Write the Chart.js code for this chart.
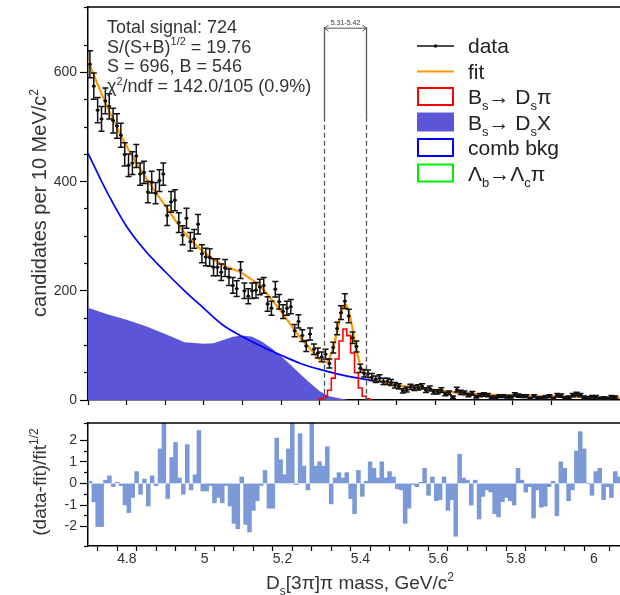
<!DOCTYPE html>
<html>
<head>
<meta charset="utf-8">
<title>Ds pi mass fit</title>
<script src="https://cdn.jsdelivr.net/npm/chart.js@4.4.1/dist/chart.umd.min.js"></script>
<style>
  html, body { margin: 0; padding: 0; background: #fff; }
  #frame { position: relative; width: 620px; height: 595px; overflow: hidden; }
  #massChart { position: absolute; left: 0; top: 0; }
  #pullChart { position: absolute; left: 0; top: 405px; }
</style>
</head>
<body>
<div id="frame">
  <canvas id="massChart" width="625" height="405"></canvas>
  <canvas id="pullChart" width="625" height="190"></canvas>
</div>
<script>
// 10 MeV bins starting at 4.70 GeV
const binStart = 4.70;
const binWidth = 0.01;

// candidates per bin
const candidates = [
  615, 575, 531, 515, 548, 538, 512, 502, 485, 450,
  430, 434, 447, 414, 417, 381, 399, 379, 402, 414,
  338, 363, 366, 325, 302, 333, 290, 295, 322, 268,
  262, 261, 243, 243, 234, 242, 225, 210, 204, 238,
  200, 190, 200, 201, 207, 210, 176, 168, 203, 180,
  162, 168, 171, 127, 144, 118, 99, 121, 93, 86,
  79, 84, 67, 96, 131, 160, 181, 154, 114, 98,
  58, 49, 48, 42, 38, 40, 34, 34, 32, 27,
  25, 17, 19, 24, 22, 23, 25, 18, 21, 15,
  15, 18, 11, 13, 5, 19, 14, 13, 9, 12,
  6, 9, 10, 9, 5, 5, 7, 7, 6, 6,
  10, 8, 7, 7, 3, 7, 4, 4, 6, 7,
  3, 9, 8, 4, 5, 9, 11, 9, 5, 4,
  6, 6, 3, 4, 3, 6, 5
];

// (data-fit)/sqrt(fit) per bin
const pulls = [
  0.1, -0.85, -2.0, -2.0, 0.15, 0.35, -0.15, 0.05, -0.1, -1.0,
  -1.35, -0.65, 0.55, -0.5, 0.2, -1.05, 0.35, -0.1, 1.6, 2.8,
  -0.7, 1.2, 1.9, 0.25, -0.5, 1.8, -0.3, 0.4, 2.45, -0.35,
  -0.35, -0.1, -0.9, -0.65, -0.9, -0.1, -1.05, -1.85, -2.1, 0.3,
  -1.9, -2.25, -1.25, -0.8, -0.1, 0.6, -1.15, -1.15, 2.1, 1.1,
  0.4, 1.6, 2.8, -0.05, 2.3, 0.8, -0.3, 2.8, 0.8, 1.0,
  0.8, 1.7, -0.95, 0.25, 0.5, 0.25, 0.5, -0.7, -1.4, 0.6,
  -0.6, 0.1, 1.0, 0.7, 0.25, 1.0, 0.25, 0.55, 0.3, -0.25,
  -0.3, -1.85, -1.15, -0.05, -0.15, 0.05, 0.7, -0.55, 0.3, -0.8,
  -0.75, 0.3, -1.25, -0.75, -2.45, 1.35, 0.25, 0.15, -1.0, 0.15,
  -1.65, -0.6, -0.3, -0.4, -1.4, -1.55, -0.85, -0.65, -0.8, -1.0,
  0.7, 0.15, -0.4, -0.15, -1.6, -0.3, -1.1, -1.05, -0.15, 0.1,
  -1.5, 1.0, 0.7, -0.8, -0.3, 1.5, 2.4, 1.6, 0.0, -0.55,
  0.55, 0.7, -0.75, -0.15, -0.65, 0.55, 0.3
];

// total fit
const fitMass = [4.70, 4.75, 4.80, 4.85, 4.90, 4.95, 5.00, 5.05, 5.10, 5.15, 5.20, 5.25, 5.275, 5.295,
  5.305, 5.315, 5.325, 5.335, 5.345, 5.355, 5.365, 5.375, 5.385, 5.395, 5.405, 5.415, 5.425, 5.435,
  5.45, 5.50, 5.55, 5.60, 5.65, 5.70, 5.75, 5.80, 5.85, 5.90, 5.95, 6.00, 6.08];
const fitValues = [621, 537, 465, 407, 356, 306, 271, 247, 232, 205, 162, 114, 94, 77,
  71, 69, 77, 95, 127, 158, 176, 163, 130, 93, 64, 48, 42, 39,
  35, 27, 23, 18, 14, 11, 9.5, 8.5, 7.5, 6.5, 6, 5, 4];

// combinatorial background
const combMass = [4.70, 4.75, 4.80, 4.85, 4.90, 4.95, 5.00, 5.05, 5.10, 5.15, 5.20, 5.25, 5.30, 5.35,
  5.40, 5.45, 5.50, 5.55, 5.60, 5.65, 5.70, 5.75, 5.80, 5.85, 5.90, 5.95, 6.00, 6.08];
const combValues = [452, 380, 318, 272, 235, 200, 168, 137, 116, 98, 82, 67, 56, 47,
  40, 34, 27, 23, 18, 14, 11, 9.5, 8.5, 7.5, 6.5, 6, 5, 4];

// Bs -> Ds X partially reconstructed
const dsxMass = [4.70, 4.75, 4.80, 4.85, 4.90, 4.95, 5.00, 5.025, 5.05, 5.075, 5.10, 5.125, 5.15,
  5.175, 5.20, 5.225, 5.25, 5.275, 5.30, 5.325, 5.35, 5.375];
const dsxValues = [169, 157, 147, 135, 121, 106, 103, 104, 110, 116, 118, 116, 107,
  95, 80, 64, 47, 31, 16, 7, 3, 0];

// Bs -> Ds pi signal, per bin
const dspiMass = [5.295, 5.305, 5.315, 5.325, 5.335, 5.345, 5.355, 5.365, 5.375, 5.385, 5.395,
  5.405, 5.415, 5.425, 5.435];
const dspiValues = [0, 2, 6, 18, 40, 75, 108, 130, 118, 86, 50, 22, 7, 2, 0];

const countTicks = [0, 200, 400, 600];
const massTicks = [4.8, 5, 5.2, 5.4, 5.6, 5.8, 6];
const pullTicks = [-2, -1, 0, 1, 2];

// signal window
const windowEdges = [5.31, 5.42];
const windowLabel = '5.31-5.42';

const infoLines = [
  [{ t: 'Total signal: 724' }],
  [{ t: 'S/(S+B)' }, { t: '1/2', sup: true }, { t: ' = 19.76' }],
  [{ t: 'S = 696, B = 546' }],
  [{ t: 'χ' }, { t: '2', sup: true }, { t: '/ndf = 142.0/105 (0.9%)' }]
];

const FONT = '"Liberation Sans", Arial, Helvetica, sans-serif';
Chart.defaults.font.family = FONT;

const binCenters = candidates.map((_, i) => +(binStart + binWidth * (i + 0.5)).toFixed(3));
const toPoints = (xs, ys) => xs.map((x, i) => ({ x: x, y: ys[i] }));
const isMultiple = (v, step) => Math.abs(v / step - Math.round(v / step)) < 1e-6;

// text with sub/superscripts
function drawRich(ctx, parts, x, y, size, align) {
  const fontOf = p => (p.sup || p.sub ? Math.round(size * 0.62) : size) + 'px ' + FONT;
  let width = 0;
  parts.forEach(p => { ctx.font = fontOf(p); width += ctx.measureText(p.t).width; });
  let cx = align === 'center' ? x - width / 2 : x;
  ctx.textAlign = 'left';
  ctx.textBaseline = 'alphabetic';
  parts.forEach(p => {
    ctx.font = fontOf(p);
    const dy = p.sup ? -size * 0.42 : (p.sub ? size * 0.3 : 0);
    ctx.fillText(p.t, cx, y + dy);
    cx += ctx.measureText(p.t).width;
  });
}

function drawYTitle(ctx, parts, x, y, size) {
  ctx.save();
  ctx.translate(x, y);
  ctx.rotate(-Math.PI / 2);
  drawRich(ctx, parts, 0, 0, size, 'center');
  ctx.restore();
}

function drawTopBorder(chart) {
  const a = chart.chartArea, ctx = chart.ctx;
  ctx.save();
  ctx.strokeStyle = '#000';
  ctx.lineWidth = 1.5;
  ctx.beginPath();
  ctx.moveTo(a.left, a.top);
  ctx.lineTo(a.right, a.top);
  ctx.stroke();
  ctx.restore();
}

const legendItems = [
  { kind: 'data', parts: [{ t: 'data' }] },
  { kind: 'line', color: '#ff9900', parts: [{ t: 'fit' }] },
  { kind: 'box', color: '#ff0000', parts: [{ t: 'B' }, { t: 's', sub: true }, { t: '\u2192 D' }, { t: 's', sub: true }, { t: 'π' }] },
  { kind: 'fill', color: '#5b56d7', parts: [{ t: 'B' }, { t: 's', sub: true }, { t: '\u2192 D' }, { t: 's', sub: true }, { t: 'X' }] },
  { kind: 'box', color: '#0000ff', parts: [{ t: 'comb bkg' }] },
  { kind: 'box', color: '#00ee00', parts: [{ t: 'Λ' }, { t: 'b', sub: true }, { t: '\u2192Λ' }, { t: 'c', sub: true }, { t: 'π' }] }
];

const massDecor = {
  id: 'massDecor',
  afterDatasetsDraw(chart) {
    const ctx = chart.ctx, a = chart.chartArea;
    const xs = chart.scales.x, ys = chart.scales.y;

    // error bars
    ctx.save();
    ctx.beginPath();
    ctx.rect(a.left, a.top, a.width, a.height);
    ctx.clip();
    ctx.strokeStyle = '#111';
    ctx.lineWidth = 1.5;
    candidates.forEach((n, i) => {
      const c = binCenters[i], e = Math.sqrt(n);
      const px = xs.getPixelForValue(c), py = ys.getPixelForValue(n);
      const y1 = ys.getPixelForValue(n + e), y2 = ys.getPixelForValue(n - e);
      const xl = xs.getPixelForValue(c - binWidth / 2), xr = xs.getPixelForValue(c + binWidth / 2);
      ctx.beginPath();
      ctx.moveTo(px, y1); ctx.lineTo(px, y2);
      ctx.moveTo(xl, py); ctx.lineTo(xr, py);
      ctx.moveTo(px - 3, y1); ctx.lineTo(px + 3, y1);
      ctx.moveTo(px - 3, y2); ctx.lineTo(px + 3, y2);
      ctx.stroke();
    });

    // signal window
    const top = ys.getPixelForValue(683), split = ys.getPixelForValue(519);
    const xa = Math.round(xs.getPixelForValue(windowEdges[0])) + 0.5;
    const xb = Math.round(xs.getPixelForValue(windowEdges[1])) + 0.5;
    ctx.strokeStyle = '#555';
    ctx.lineWidth = 1.3;
    [xa, xb].forEach(px => {
      ctx.setLineDash([]);
      ctx.beginPath(); ctx.moveTo(px, top); ctx.lineTo(px, split); ctx.stroke();
      ctx.setLineDash([5, 3]);
      ctx.beginPath(); ctx.moveTo(px, split); ctx.lineTo(px, a.bottom); ctx.stroke();
    });
    ctx.setLineDash([]);
    ctx.lineWidth = 1;
    ctx.beginPath();
    ctx.moveTo(xa, top + 1); ctx.lineTo(xb, top + 1);
    ctx.moveTo(xa + 4, top - 2); ctx.lineTo(xa, top + 1); ctx.lineTo(xa + 4, top + 4);
    ctx.moveTo(xb - 4, top - 2); ctx.lineTo(xb, top + 1); ctx.lineTo(xb - 4, top + 4);
    ctx.stroke();
    ctx.fillStyle = '#333';
    ctx.font = '7px ' + FONT;
    ctx.textAlign = 'center';
    ctx.textBaseline = 'alphabetic';
    ctx.fillText(windowLabel, (xa + xb) / 2, top - 2);
    ctx.restore();

    // fit summary
    ctx.save();
    ctx.fillStyle = '#333';
    infoLines.forEach((parts, i) => drawRich(ctx, parts, 107, 33 + i * 19.7, 18));
    ctx.restore();
  },
  afterDraw(chart) {
    const ctx = chart.ctx;
    drawTopBorder(chart);

    ctx.save();
    ctx.fillStyle = '#333';
    drawYTitle(ctx, [{ t: 'candidates per 10 MeV/c' }, { t: '2', sup: true }], 46, 203, 20);

    // legend
    const x0 = 417, w = 37;
    legendItems.forEach((item, i) => {
      const yc = 46 + i * 25.5;
      ctx.save();
      if (item.kind === 'data') {
        ctx.strokeStyle = '#111'; ctx.lineWidth = 1.3;
        ctx.beginPath(); ctx.moveTo(x0, yc); ctx.lineTo(x0 + w, yc); ctx.stroke();
        ctx.fillStyle = '#111';
        ctx.beginPath(); ctx.arc(x0 + w / 2, yc, 1.8, 0, Math.PI * 2); ctx.fill();
      } else if (item.kind === 'line') {
        ctx.strokeStyle = item.color; ctx.lineWidth = 2;
        ctx.beginPath(); ctx.moveTo(x0, yc); ctx.lineTo(x0 + w, yc); ctx.stroke();
      } else if (item.kind === 'fill') {
        ctx.fillStyle = item.color;
        ctx.fillRect(x0, yc - 10, w, 19);
      } else {
        ctx.strokeStyle = item.color; ctx.lineWidth = 2;
        ctx.strokeRect(x0 + 1, yc - 9, w - 2, 17);
      }
      ctx.restore();
      ctx.fillStyle = '#222';
      drawRich(ctx, item.parts, 468, yc + 7, 21);
    });
    ctx.restore();
  }
};

const pullDecor = {
  id: 'pullDecor',
  afterDraw(chart) {
    const ctx = chart.ctx;
    drawTopBorder(chart);
    ctx.save();
    ctx.fillStyle = '#333';
    drawYTitle(ctx, [{ t: '(data-fit)/fit' }, { t: '1/2', sup: true }], 46, 77, 19);
    drawRich(ctx, [{ t: 'D' }, { t: 's', sub: true }, { t: '[3π]π mass, GeV/c' }, { t: '2', sup: true }],
      360, 184, 19, 'center');
    ctx.restore();
  }
};

const minorDash = major => c => (c.tick && major(c.tick.value)) ? [] : [4, 4];
const minorOffset = major => c => (c.tick && major(c.tick.value)) ? 0 : 4;

// mass distribution with fit components
new Chart(document.getElementById('massChart'), {
  type: 'line',
  data: {
    datasets: [
      {
        label: 'data',
        data: toPoints(binCenters, candidates),
        showLine: false,
        pointRadius: 1.7,
        pointBorderWidth: 0,
        pointBackgroundColor: '#000'
      },
      {
        label: 'fit',
        data: toPoints(fitMass, fitValues),
        borderColor: '#ff9900',
        borderWidth: 2.2,
        pointRadius: 0,
        cubicInterpolationMode: 'monotone',
        fill: false
      },
      {
        label: 'Bs→Dsπ',
        data: toPoints(dspiMass, dspiValues),
        borderColor: '#ff0000',
        borderWidth: 1.6,
        pointRadius: 0,
        stepped: 'middle',
        fill: false
      },
      {
        label: 'comb bkg',
        data: toPoints(combMass, combValues),
        borderColor: '#0000ff',
        borderWidth: 1.7,
        pointRadius: 0,
        cubicInterpolationMode: 'monotone',
        fill: false
      },
      {
        label: 'Bs→DsX',
        data: toPoints(dsxMass, dsxValues),
        borderColor: '#5b56d7',
        borderWidth: 0,
        backgroundColor: '#5b56d7',
        pointRadius: 0,
        fill: 'origin'
      }
    ]
  },
  options: {
    responsive: false,
    animation: false,
    layout: { padding: { top: 7, left: 0, right: 0, bottom: 0 } },
    plugins: { legend: { display: false }, tooltip: { enabled: false } },
    scales: {
      x: {
        type: 'linear',
        min: 4.70,
        max: 6.08,
        afterFit: s => { s.height = 5; s.paddingLeft = 0; s.paddingRight = 0; },
        ticks: { display: false, stepSize: 0.1, autoSkip: false },
        grid: { drawOnChartArea: false, tickLength: 5, tickWidth: 1.2, tickColor: '#000' },
        border: { color: '#000', width: 1.5 }
      },
      y: {
        min: 0,
        max: 720,
        afterFit: s => { s.width = 88; s.paddingTop = 0; s.paddingBottom = 0; },
        ticks: {
          stepSize: 50,
          autoSkip: false,
          padding: 3,
          color: '#333',
          font: { size: 14 },
          callback: v => countTicks.includes(v) ? String(v) : ''
        },
        grid: {
          drawOnChartArea: false,
          tickLength: 8,
          tickWidth: 1.2,
          tickColor: '#000',
          tickBorderDash: minorDash(v => isMultiple(v, 200)),
          tickBorderDashOffset: minorOffset(v => isMultiple(v, 200))
        },
        border: { color: '#000', width: 1.5 }
      }
    }
  },
  plugins: [massDecor]
});

// residuals
new Chart(document.getElementById('pullChart'), {
  type: 'bar',
  data: {
    datasets: [{
      data: toPoints(binCenters, pulls),
      backgroundColor: '#7b99d7',
      borderWidth: 0,
      barPercentage: 1,
      categoryPercentage: 1
    }]
  },
  options: {
    responsive: false,
    animation: false,
    layout: { padding: { top: 18, left: 0, right: 0, bottom: 0 } },
    plugins: { legend: { display: false }, tooltip: { enabled: false } },
    scales: {
      x: {
        type: 'linear',
        min: 4.70,
        max: 6.08,
        offset: false,
        afterFit: s => { s.height = 49; s.paddingLeft = 0; s.paddingRight = 0; },
        ticks: {
          stepSize: 0.05,
          autoSkip: false,
          maxRotation: 0,
          padding: 0,
          color: '#333',
          font: { size: 14 },
          callback: v => massTicks.some(m => Math.abs(m - v) < 1e-6) ? String(Math.round(v * 10) / 10) : ''
        },
        grid: { drawOnChartArea: false, tickLength: 5, tickWidth: 1.2, tickColor: '#000' },
        border: { color: '#000', width: 1.5 }
      },
      y: {
        min: -2.9,
        max: 2.8,
        afterFit: s => { s.width = 88; s.paddingTop = 0; s.paddingBottom = 0; },
        ticks: {
          stepSize: 0.5,
          autoSkip: false,
          padding: 3,
          color: '#333',
          font: { size: 14 },
          callback: v => pullTicks.some(t => Math.abs(t - v) < 1e-6) ? String(Math.round(v)) : ''
        },
        grid: {
          drawOnChartArea: false,
          tickLength: 8,
          tickWidth: 1.2,
          tickColor: '#000',
          tickBorderDash: minorDash(v => isMultiple(v, 1)),
          tickBorderDashOffset: minorOffset(v => isMultiple(v, 1))
        },
        border: { color: '#000', width: 1.5 }
      }
    }
  },
  plugins: [pullDecor]
});
</script>
</body>
</html>
